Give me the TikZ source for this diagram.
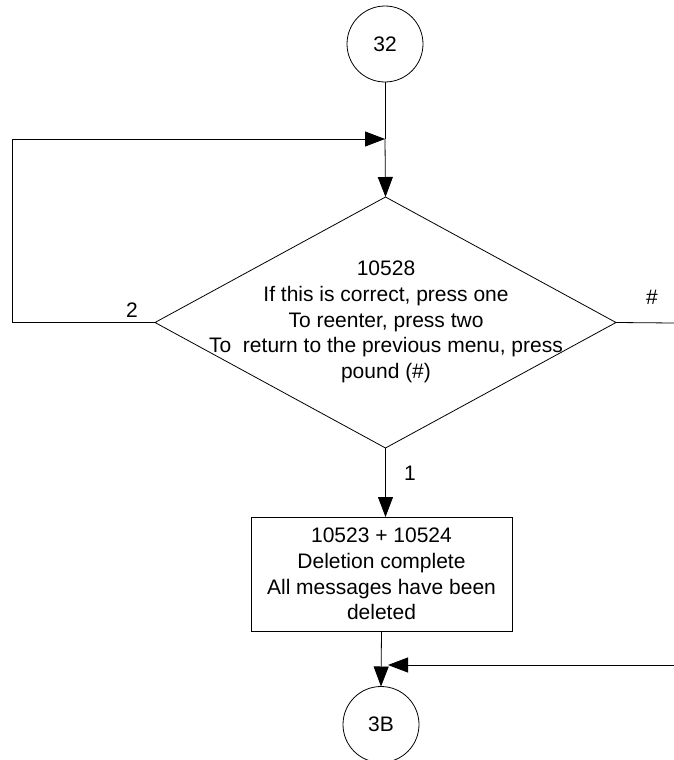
\documentclass[tikz,border=0pt]{standalone}
\usepackage{fontspec}
\setmainfont{Liberation Sans}
\usetikzlibrary{shapes.geometric,arrows.meta}

\begin{document}
\begin{tikzpicture}[x=1pt,y=-1pt,line width=0.8pt,
    >={Triangle[length=20pt,width=15pt]},
    every node/.style={font=\fontsize{21}{25.8}\selectfont},
    connector/.style={circle,draw,minimum size=76pt,inner sep=0pt,outer sep=0pt},
    decision/.style={diamond,draw,minimum width=461pt,minimum height=251pt,inner sep=0pt,outer sep=0pt},
    prompt/.style={rectangle,draw,minimum width=261pt,minimum height=114pt,align=center,outer sep=0pt}]
    \useasboundingbox (0,0) rectangle (674,760);
    % nodes
    \node[connector] (c32) at (385,44) {32};
    \node[decision] (dec) at (385.5,322.5) {};
    \node[align=center] (dectext) at (386,322) {10528\\If this is correct, press one\\To reenter, press two\\To\ \ return to the previous menu, press\\pound (\#)};
    \node[prompt] (del) at (381.5,574) {10523 + 10524\\Deletion complete\\All messages have been\\deleted};
    \node[connector] (c3b) at (381,724.5) {3B};
    \coordinate (join) at (385,139);
    \coordinate (lft) at (12,139);
    \coordinate (rgt) at (674,323);
    \coordinate (ret) at (674,665);
    \coordinate (retend) at (388,665);
    % connectors
    \draw (c32) -- (join);
    \draw[->] (join) -- (dec.north);
    \draw[->] (dec.west) -| (lft) -- (join);
    \draw (dec.east) -- (rgt);
    \draw[->] (dec.south) -- (dec.south |- del.north);
    \draw[->] (del.south) -- (c3b.north);
    \draw[->] (ret) -- (retend);
    % labels
    \node (lbl2) at (132,310) {2};
    \node (lblhash) at (652,297) {\#};
    \node (lbl1) at (410,473) {1};
\end{tikzpicture}
\end{document}
